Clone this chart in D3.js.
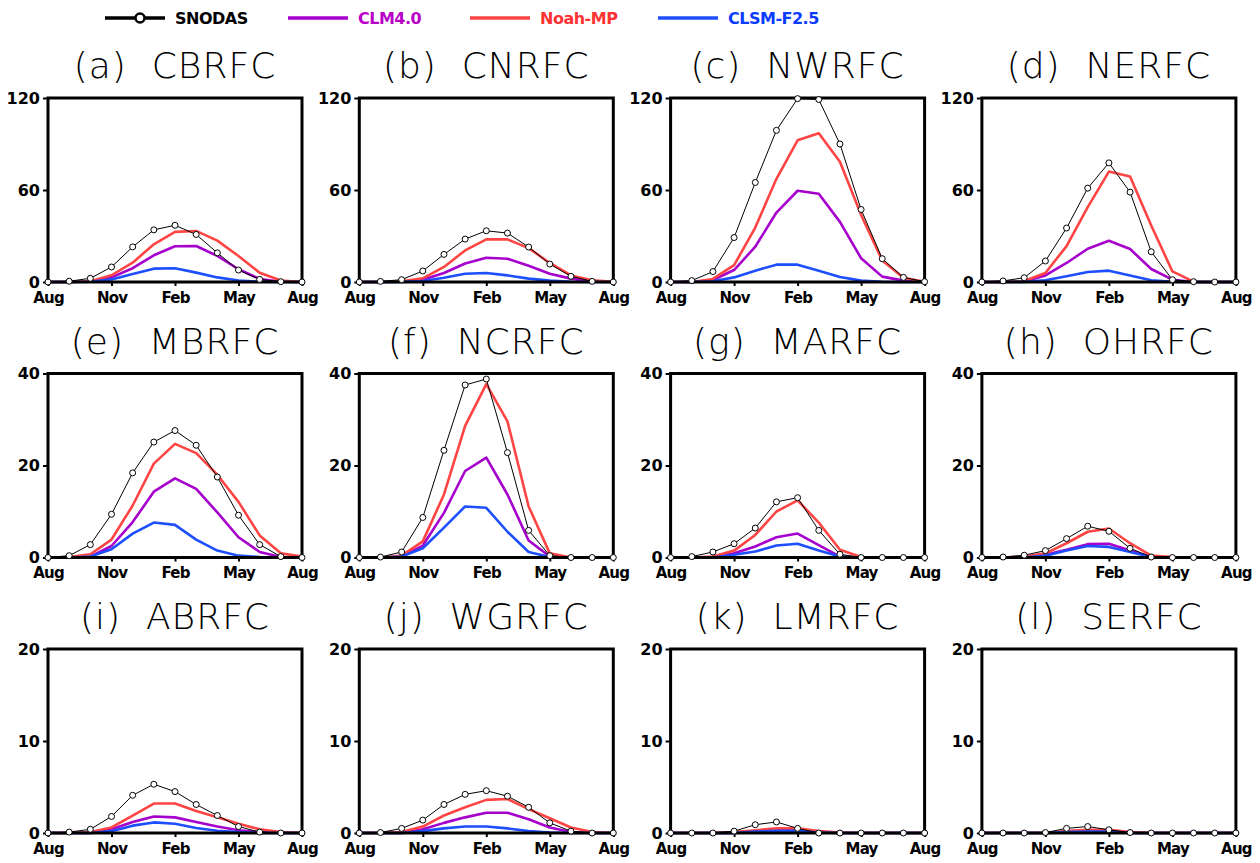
<!DOCTYPE html>
<html>
<head>
<meta charset="utf-8">
<script src="https://cdn.jsdelivr.net/npm/d3@7"></script>
<style>
  body { margin: 0; background: #fff; }
</style>
</head>
<body>
<div id="chart"></div>
<script>
// Month labels (Aug to Aug), regions and y-axis maxima
const months = ['Aug', 'Sep', 'Oct', 'Nov', 'Dec', 'Jan', 'Feb', 'Mar', 'Apr', 'May', 'Jun', 'Jul', 'Aug'];
const tickMonths = [0, 3, 6, 9, 12];
const regions = ['(a)  CBRFC', '(b)  CNRFC', '(c)  NWRFC', '(d)  NERFC',
                 '(e)  MBRFC', '(f)  NCRFC', '(g)  MARFC', '(h)  OHRFC',
                 '(i)  ABRFC', '(j)  WGRFC', '(k)  LMRFC', '(l)  SERFC'];
const yMax = [120, 120, 120, 120, 40, 40, 40, 40, 20, 20, 20, 20];

// SNODAS observations, one row per region
const snodas = [
  [0, 0.5, 2.4, 9.8, 22.9, 34, 37, 31, 19, 7.8, 1.7, 0.2, 0],
  [0, 0.4, 1.5, 7.2, 18, 28, 33.4, 31.9, 22.8, 11.7, 3.7, 0.4, 0],
  [0, 0.9, 6.8, 29, 64.9, 98.9, 119.6, 119, 90, 47.3, 15.2, 3, 0.2],
  [0, 0.7, 2.8, 13.7, 35.2, 61.2, 77.7, 58.6, 19.7, 1.5, 0.2, 0, 0],
  [0, 0.4, 2.8, 9.4, 18.4, 25.1, 27.6, 24.4, 17.5, 9.2, 2.8, 0.2, 0],
  [0, 0.1, 1.2, 8.7, 23.3, 37.5, 38.8, 22.8, 5.9, 0.4, 0, 0, 0],
  [0, 0.2, 1.2, 3, 6.4, 12.1, 13, 5.9, 0.7, 0, 0, 0, 0],
  [0, 0.1, 0.5, 1.5, 4.1, 6.8, 5.7, 2, 0.1, 0, 0, 0, 0],
  [0, 0.1, 0.4, 1.8, 4.1, 5.3, 4.5, 3.1, 1.9, 0.7, 0.1, 0, 0],
  [0, 0.05, 0.5, 1.4, 3.1, 4.2, 4.6, 4.0, 2.8, 1.1, 0.2, 0, 0],
  [0, 0, 0, 0.2, 0.9, 1.2, 0.5, 0, 0, 0, 0, 0, 0],
  [0, 0, 0, 0.05, 0.5, 0.7, 0.35, 0.05, 0, 0, 0, 0, 0]
];

// CLM4.0
const clm = [
  [0, 0, 0.3, 3, 9, 17.4, 23.3, 23.5, 17, 8.3, 2, 0.2, 0],
  [0, 0, 0.2, 1.5, 5.9, 12.1, 15.8, 15.2, 10.6, 5.4, 2.2, 0.4, 0],
  [0, 0, 1.3, 7.8, 23, 45.3, 59.5, 57.5, 39.2, 15.5, 3.5, 0.9, 0],
  [0, 0, 0.3, 4.3, 12.4, 21.7, 26.9, 21.5, 8.5, 1.5, 0, 0, 0],
  [0, 0, 0.2, 2.5, 7.7, 14.3, 17.2, 14.9, 9.8, 4.4, 1.2, 0.1, 0],
  [0, 0, 0.2, 2.6, 9.7, 18.8, 21.7, 13.7, 3.7, 0.2, 0, 0, 0],
  [0, 0, 0.1, 0.9, 2.4, 4.4, 5.2, 2.7, 0.2, 0, 0, 0, 0],
  [0, 0, 0, 0.6, 1.7, 2.9, 3, 1.5, 0.1, 0, 0, 0, 0],
  [0, 0, 0, 0.4, 1.2, 1.8, 1.7, 1.2, 0.7, 0.3, 0.1, 0, 0],
  [0, 0, 0, 0.4, 1.1, 1.7, 2.2, 2.2, 1.5, 0.6, 0.1, 0, 0],
  [0, 0, 0, 0, 0.15, 0.3, 0.3, 0.05, 0, 0, 0, 0, 0],
  [0, 0, 0, 0, 0.15, 0.25, 0.2, 0, 0, 0, 0, 0, 0]
];

// Noah-MP
const noah = [
  [0, 0, 0.5, 4.4, 12.6, 24.6, 32.7, 33.3, 27, 17, 6, 1, 0],
  [0, 0, 0.4, 2.4, 9.8, 20.6, 27.8, 27.8, 22.1, 12.4, 4.3, 1.1, 0.2],
  [0, 0, 2, 11, 35.5, 67.3, 92.4, 97, 78.4, 43.8, 14, 2.8, 0.2],
  [0, 0, 0.7, 5.9, 23.4, 48.8, 72, 68.8, 36.9, 6.9, 0.2, 0, 0],
  [0, 0.1, 0.7, 3.9, 11.3, 20.4, 24.7, 22.7, 18, 12.1, 4.8, 0.9, 0.2],
  [0, 0, 0.4, 3.5, 13.7, 28.6, 37.7, 29.6, 11.1, 0.9, 0, 0, 0],
  [0, 0, 0.2, 1.5, 4.9, 10, 12.4, 7.6, 1.7, 0.1, 0, 0, 0],
  [0, 0, 0.2, 0.9, 3.1, 5.6, 6.3, 3.1, 0.4, 0.1, 0, 0, 0],
  [0, 0, 0.1, 0.6, 1.9, 3.2, 3.2, 2.4, 1.7, 1, 0.4, 0.1, 0],
  [0, 0, 0.1, 0.7, 1.9, 2.8, 3.6, 3.7, 2.6, 1.6, 0.6, 0.1, 0],
  [0, 0, 0, 0.1, 0.3, 0.5, 0.5, 0.2, 0.05, 0, 0, 0, 0],
  [0, 0, 0, 0, 0.2, 0.35, 0.35, 0.1, 0, 0, 0, 0, 0]
];

// CLSM-F2.5
const clsm = [
  [0, 0, 0.2, 1.7, 5.2, 8.7, 9, 6.1, 3, 1, 0.2, 0, 0],
  [0, 0, 0.1, 0.7, 2.8, 5.4, 5.9, 4.3, 2.2, 0.9, 0.2, 0, 0],
  [0, 0, 0.5, 3, 7.4, 11.3, 11.3, 7.4, 3.3, 0.9, 0.2, 0, 0],
  [0, 0, 0.1, 1.1, 3.7, 6.5, 7.4, 4.3, 1.1, 0.2, 0, 0, 0],
  [0, 0, 0.2, 1.8, 5.2, 7.6, 7.1, 3.9, 1.5, 0.4, 0.1, 0, 0],
  [0, 0, 0.2, 2, 6.5, 11.1, 10.8, 5.6, 1.2, 0.1, 0, 0, 0],
  [0, 0, 0, 0.6, 1.3, 2.6, 3, 1.5, 0.2, 0, 0, 0, 0],
  [0, 0, 0, 0.4, 1.5, 2.5, 2.3, 1.2, 0.1, 0, 0, 0, 0],
  [0, 0, 0, 0.2, 0.8, 1.15, 1, 0.55, 0.25, 0.1, 0, 0, 0],
  [0, 0, 0, 0.2, 0.5, 0.7, 0.7, 0.5, 0.2, 0.05, 0, 0, 0],
  [0, 0, 0, 0, 0.15, 0.25, 0.25, 0.05, 0, 0, 0, 0, 0],
  [0, 0, 0, 0, 0.1, 0.15, 0.15, 0, 0, 0, 0, 0, 0]
];

const seriesNames = ['SNODAS', 'CLM4.0', 'Noah-MP', 'CLSM-F2.5'];

// Colours
const lineColor = { 'CLM4.0': '#a600cc', 'Noah-MP': '#ff4444', 'CLSM-F2.5': '#1d4fff' };
const textColor = { 'SNODAS': '#000', 'CLM4.0': '#b800c8', 'Noah-MP': '#ff3333', 'CLSM-F2.5': '#0a3cff' };

let width = 1260, height = 863;

let svg = d3.select('#chart')
  .append('svg')
  .attr('width', width)
  .attr('height', height)
  .style('background', '#fff');

// Panel geometry
let panelW = 254, panelH = 184;
let firstLeft = 48, colStep = 311.3;
let firstTop = 98, rowStep = 275.5;

const labelFont = '"DejaVu Sans", sans-serif';

// Draw the 12 panels
regions.forEach((name, i) => {
  let col = i % 4, row = Math.floor(i / 4);
  let left = firstLeft + col * colStep;
  let top = firstTop + row * rowStep;

  let x = d3.scaleLinear().domain([0, 12]).range([0, panelW]);
  let y = d3.scaleLinear().domain([0, yMax[i]]).range([panelH, 0]);

  let g = svg.append('g').attr('transform', `translate(${left},${top})`);

  // Title
  g.append('text')
    .attr('x', panelW / 2)
    .attr('y', -20)
    .attr('text-anchor', 'middle')
    .style('white-space', 'pre')
    .style('font-family', labelFont)
    .style('font-weight', 200)
    .style('font-size', '36px')
    .style('letter-spacing', '1px')
    .text(name);

  // y axis
  let yAxis = g.append('g')
    .call(d3.axisLeft(y).tickValues([0, yMax[i] / 2, yMax[i]]).tickSize(5).tickPadding(3));
  yAxis.select('.domain').remove();
  yAxis.selectAll('line').attr('stroke-width', 2);
  yAxis.selectAll('text')
    .style('font-family', labelFont)
    .style('font-weight', 'bold')
    .style('font-size', '16px')
    .attr('fill', '#000');

  // x axis
  let xAxis = g.append('g')
    .attr('transform', `translate(0,${panelH})`)
    .call(d3.axisBottom(x).tickValues(tickMonths).tickFormat(d => months[d]).tickSize(4).tickPadding(6));
  xAxis.select('.domain').remove();
  xAxis.selectAll('line').attr('stroke-width', 2);
  xAxis.selectAll('text')
    .style('font-family', labelFont)
    .style('font-weight', 'bold')
    .style('font-size', '15px')
    .style('letter-spacing', '-0.8px')
    .attr('fill', '#000');

  let line = d3.line()
    .x((d, k) => x(k))
    .y(d => y(d));

  // Model lines
  [['CLM4.0', clm], ['Noah-MP', noah], ['CLSM-F2.5', clsm]].forEach(([key, arr]) => {
    g.append('path')
      .datum(arr[i])
      .attr('d', line)
      .attr('fill', 'none')
      .attr('stroke', lineColor[key])
      .attr('stroke-width', 2.6)
      .attr('stroke-linejoin', 'round');
  });

  // Frame (drawn over the model lines so the zero line stays black)
  g.append('rect')
    .attr('x', 0)
    .attr('y', 0)
    .attr('width', panelW)
    .attr('height', panelH)
    .attr('fill', 'none')
    .attr('stroke', '#000')
    .attr('stroke-width', 3);

  // SNODAS line with open circles
  g.append('path')
    .datum(snodas[i])
    .attr('d', line)
    .attr('fill', 'none')
    .attr('stroke', '#000')
    .attr('stroke-width', 1);

  g.selectAll('.obs')
    .data(snodas[i])
    .enter()
    .append('circle')
    .attr('cx', (d, k) => x(k))
    .attr('cy', d => y(d))
    .attr('r', 3)
    .attr('fill', '#fff')
    .attr('stroke', '#000')
    .attr('stroke-width', 1);
});

// Legend along the top
const legendX = [105, 288, 470, 658];
const legend = svg.append('g').attr('transform', 'translate(0,18)');

seriesNames.forEach((s, i) => {
  let lx = legendX[i];
  legend.append('line')
    .attr('x1', lx)
    .attr('x2', lx + 60)
    .attr('y1', 0)
    .attr('y2', 0)
    .attr('stroke', s === 'SNODAS' ? '#000' : lineColor[s])
    .attr('stroke-width', 3.5);

  if (s === 'SNODAS') {
    legend.append('circle')
      .attr('cx', lx + 35)
      .attr('cy', 0)
      .attr('r', 4.5)
      .attr('fill', '#fff')
      .attr('stroke', '#000')
      .attr('stroke-width', 2.5);
  }

  legend.append('text')
    .attr('x', lx + 70)
    .attr('y', 0)
    .attr('dy', '0.36em')
    .style('font-family', labelFont)
    .style('font-weight', 'bold')
    .style('font-size', '16px')
    .style('letter-spacing', '-0.5px')
    .attr('fill', textColor[s])
    .text(s);
});
</script>
</body>
</html>
